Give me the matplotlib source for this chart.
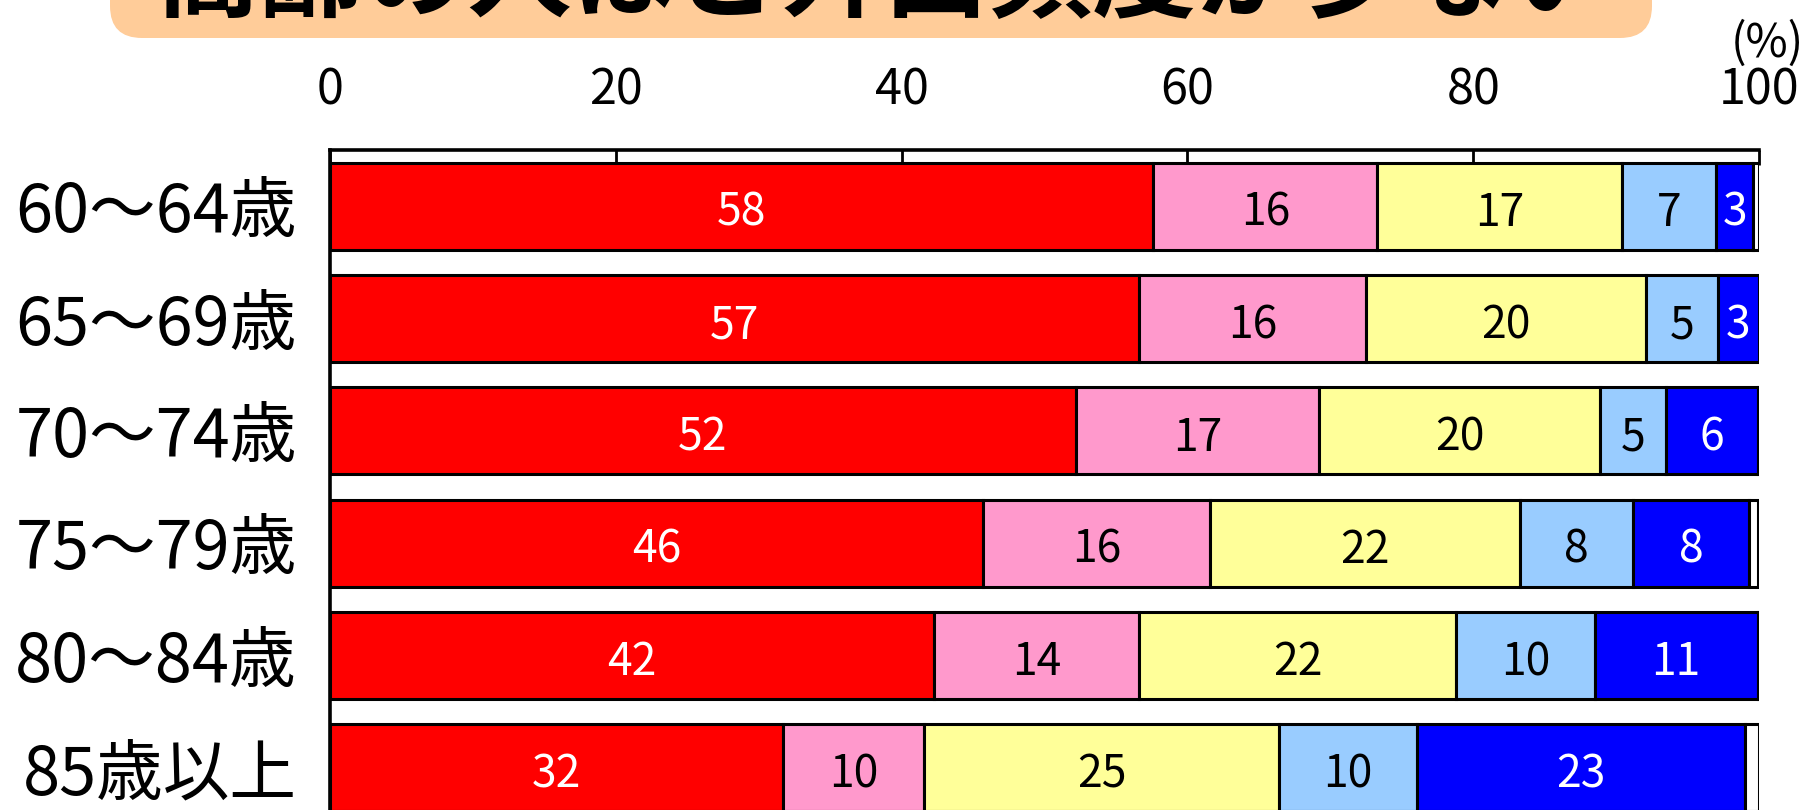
import matplotlib.pyplot as plt
from matplotlib.patches import FancyBboxPatch
import numpy as np

plt.rcParams['font.family'] = ['Noto Sans CJK JP', 'DejaVu Sans']

# age groups (top to bottom)
ages = ['60～64歳', '65～69歳', '70～74歳', '75～79歳', '80～84歳', '85歳以上']

# share of each answer (%)
almost_daily = [57.6, 56.6, 52.2, 45.7, 42.3, 31.7]
four_five    = [15.7, 15.9, 17.0, 15.9, 14.3, 9.9]
two_three    = [17.1, 19.6, 19.7, 21.7, 22.2, 24.8]
once_week    = [6.6, 5.0, 4.6, 7.9, 9.7, 9.7]
less_often   = [2.6, 2.9, 6.4, 8.1, 11.4, 22.9]
no_answer    = [0.4, 0.0, 0.1, 0.6, 0.1, 1.0]

series = [almost_daily, four_five, two_three, once_week, less_often, no_answer]
colors = ['#FF0000', '#FF99CC', '#FFFF99', '#99CCFF', '#0000FF', '#FFFFFF']
txt_colors = ['white', 'black', 'black', 'black', 'white', None]

title = '高齢の人ほど外出頻度が少ない'

fig = plt.figure(figsize=(18.18, 8.10), dpi=100)
ax = fig.add_axes([330/1818, 1 - 824/810, 1429/1818, 674/810])

y = np.arange(len(ages))
left = np.zeros(len(ages))
for si, vals in enumerate(series):
    vals = np.array(vals)
    ax.barh(y, vals, left=left, height=0.774, color=colors[si],
            edgecolor='black', linewidth=2.2, zorder=2)
    if txt_colors[si] is not None:
        for yi, v in enumerate(vals):
            ax.text(left[yi] + v/2, yi + 0.06, '%d' % round(v), ha='center', va='center',
                    fontsize=32, color=txt_colors[si], zorder=3)
    left = left + vals

ax.set_xlim(0, 100)
ax.set_ylim(len(ages) - 0.5, -0.5)
ax.set_xticks([0, 20, 40, 60, 80, 100])
ax.xaxis.tick_top()
ax.tick_params(axis='x', direction='in', length=11, width=2, pad=25, labelsize=35)
ax.set_yticks(y)
ax.set_yticklabels(ages, fontsize=48)
ax.tick_params(axis='y', length=0, pad=24)
for s in ['right', 'bottom']:
    ax.spines[s].set_visible(False)
for s in ['top', 'left']:
    ax.spines[s].set_linewidth(2.6)

fig.text(17.67, 8.10 - 0.44, '(%)', transform=fig.dpi_scale_trans,
         ha='center', va='center', fontsize=33)

# title box, cut off at the top of the picture
box = FancyBboxPatch((1.10, 7.72), 15.42, 1.0, boxstyle='round,pad=0,rounding_size=0.32',
                     transform=fig.dpi_scale_trans, facecolor='#FFCC99', edgecolor='none')
fig.patches.append(box)
fig.text(8.84, 8.10 - 0.09, title, transform=fig.dpi_scale_trans, ha='center',
         va='baseline', fontsize=75, fontweight='bold')

plt.savefig('out.png', dpi=100)
